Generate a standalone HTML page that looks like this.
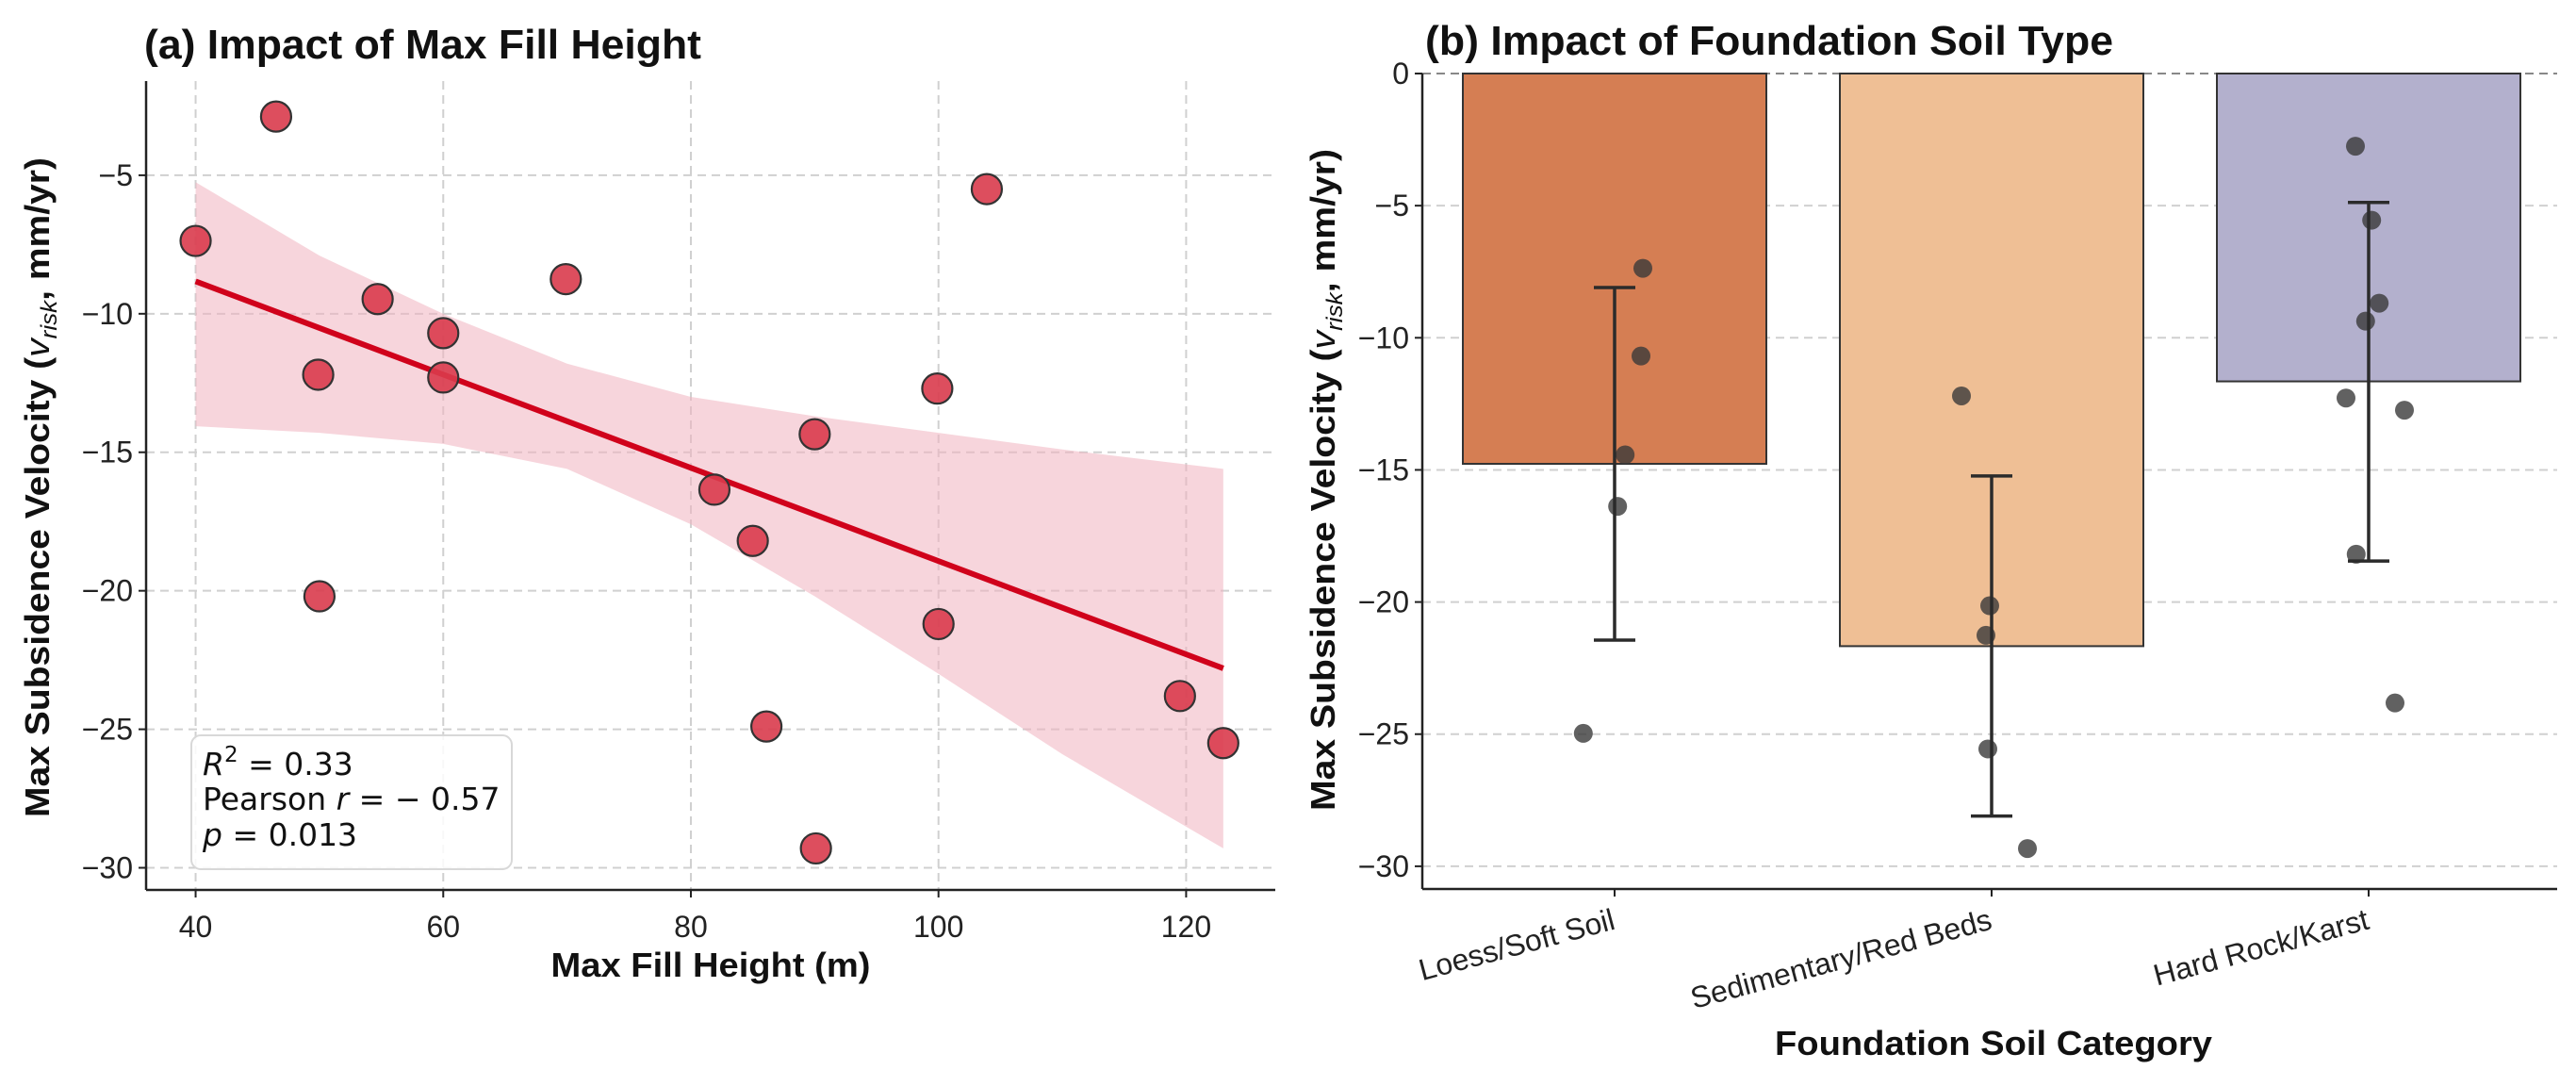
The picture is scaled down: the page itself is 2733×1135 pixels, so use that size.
<!DOCTYPE html>
<html><head><meta charset="utf-8">
<style>
html,body{margin:0;padding:0;background:#fff;}
svg{display:block;}
text{font-family:"Liberation Sans",Arial,sans-serif;}
.tick{font-size:32px;fill:#222;}
.title{font-size:44px;font-weight:bold;fill:#111;}
.alabel{font-size:36px;font-weight:bold;fill:#111;}
.leg{font-family:"DejaVu Sans","Liberation Sans",sans-serif;font-size:33px;fill:#111;}
</style></head>
<body>
<svg id="chart" width="2733" height="1135" viewBox="0 0 2733 1135" xmlns="http://www.w3.org/2000/svg">
<g id="pa"></g>
<g id="pb"></g>
</svg>
<script>
// ---------- Panel A data ----------
const fillHeights = [40, 46.5, 49.9, 50, 54.7, 60, 60, 69.9, 81.9, 85, 86.1, 90, 90.1, 99.9, 100, 103.9, 119.5, 123];
const velocitiesA = [-7.37, -2.88, -12.2, -20.2, -9.47, -10.7, -12.3, -8.75, -16.35, -18.2, -24.9, -14.35, -29.3, -12.7, -21.2, -5.5, -23.8, -25.5];
const fitX = [40, 123];
const fitY = [-8.83, -22.8];
const bandX = [40, 50, 60, 70, 80, 90, 100, 110, 123];
const bandUpper = [-5.25, -7.9, -10.0, -11.8, -13.0, -13.7, -14.3, -14.9, -15.6];
const bandLower = [-14.06, -14.3, -14.7, -15.6, -17.6, -20.2, -23.0, -25.9, -29.3];
const xTicksA = [40, 60, 80, 100, 120];
const yTicksA = [-5, -10, -15, -20, -25, -30];

// ---------- Panel B data ----------
const categories = ["Loess/Soft Soil", "Sedimentary/Red Beds", "Hard Rock/Karst"];
const barMeans = [-14.77, -21.67, -11.65];
const errTop = [-8.1, -15.23, -4.88];
const errBottom = [-21.44, -28.1, -18.45];
const stripCat = [0,0,0,0,0, 1,1,1,1,1, 2,2,2,2,2,2,2,2];
const stripVal = [-7.37,-10.69,-14.43,-16.38,-24.97, -12.2,-20.14,-21.26,-25.56,-29.33, -2.75,-5.55,-8.69,-9.37,-12.28,-12.74,-18.19,-23.82];
const stripJitter = [0.075,0.07,0.028,0.008,-0.083, -0.08,-0.005,-0.015,-0.01,0.095, -0.035,0.008,0.028,-0.008,-0.06,0.095,-0.033,0.07];
const yTicksB = [0, -5, -10, -15, -20, -25, -30];
const barColors = ["#d57e53", "#efbf95", "#b3b0cd"];

const NS = "http://www.w3.org/2000/svg";
function mk(parent, tag, attrs, txt){
  const e = document.createElementNS(NS, tag);
  for (const k in attrs) e.setAttribute(k, attrs[k]);
  if (txt !== undefined) e.textContent = txt;
  parent.appendChild(e);
  return e;
}

// ===== Panel A =====
const pa = document.getElementById('pa');
const A = {l:155, r:1353, t:86, b:944, x0:36.0, x1:127.2, y0:-30.8, y1:-1.6};
const xA = v => A.l + (v - A.x0) / (A.x1 - A.x0) * (A.r - A.l);
const yA = v => A.b - (v - A.y0) / (A.y1 - A.y0) * (A.b - A.t);

xTicksA.forEach(t => {
  let g = mk(pa, 'line', {x1:xA(t), x2:xA(t), y1:A.t, y2:A.b, stroke:'#d0d0d0', 'stroke-width':2, 'stroke-dasharray':'9 6'});
  
  
  let tk = mk(pa, 'line', {x1:xA(t), x2:xA(t), y1:A.b, y2:A.b+8, stroke:'#222', 'stroke-width':2});
  
  
  let lb = mk(pa, 'text', {x:xA(t), y:A.b+50, 'text-anchor':'middle', class:'tick'}, String(t));
  
  
});
yTicksA.forEach(t => {
  let g = mk(pa, 'line', {x1:A.l, x2:A.r, y1:yA(t), y2:yA(t), stroke:'#d0d0d0', 'stroke-width':2, 'stroke-dasharray':'9 6'});
  
  
  let tk = mk(pa, 'line', {x1:A.l-8, x2:A.l, y1:yA(t), y2:yA(t), stroke:'#222', 'stroke-width':2});
  
  
  let lb = mk(pa, 'text', {x:A.l-14, y:yA(t)+11, 'text-anchor':'end', class:'tick'}, String(t).replace('-', '\u2212'));
  
  
});

// confidence band
let bandPts = bandX.map((x,i) => xA(x)+','+yA(bandUpper[i]));
for (let i = bandX.length-1; i >= 0; i--) bandPts.push(xA(bandX[i])+','+yA(bandLower[i]));
let band = mk(pa, 'polygon', {points:bandPts.join(' '), fill:'#f0b3bf', 'fill-opacity':0.55});



// regression line
let fl = mk(pa, 'line', {x1:xA(fitX[0]), y1:yA(fitY[0]), x2:xA(fitX[1]), y2:yA(fitY[1]), stroke:'#d0021b', 'stroke-width':6});



// points
fillHeights.forEach((x,i) => {
  let c = mk(pa, 'circle', {cx:xA(x), cy:yA(velocitiesA[i]), r:16, fill:'#d93b4c', 'fill-opacity':0.9, stroke:'#333', 'stroke-width':2.2});
  
  
});

// spines
mk(pa, 'line', {x1:A.l, x2:A.l, y1:A.t, y2:A.b, stroke:'#222', 'stroke-width':2.5,  });
mk(pa, 'line', {x1:A.l, x2:A.r, y1:A.b, y2:A.b, stroke:'#222', 'stroke-width':2.5,  });

// legend box
const lg = mk(pa, 'g', { });
mk(lg, 'rect', {x:203, y:780, width:340, height:142, rx:10, fill:'#fff', 'fill-opacity':0.85, stroke:'#d8d8d8', 'stroke-width':2});
let t1 = mk(lg, 'text', {x:215, y:822, class:'leg'});
t1.innerHTML = '<tspan font-style="italic">R</tspan><tspan dy="-14" font-size="23">2</tspan><tspan dy="14"> = 0.33</tspan>';
let t2 = mk(lg, 'text', {x:215, y:859, class:'leg'});
t2.innerHTML = 'Pearson <tspan font-style="italic">r</tspan> = \u2212 0.57';
let t3 = mk(lg, 'text', {x:215, y:897, class:'leg'});
t3.innerHTML = '<tspan font-style="italic">p</tspan> = 0.013';

mk(pa, 'text', {x:153, y:62, class:'title', textLength:591, lengthAdjust:'spacingAndGlyphs',  }, '(a) Impact of Max Fill Height');
mk(pa, 'text', {x:754, y:1036, class:'alabel', 'text-anchor':'middle', textLength:339, lengthAdjust:'spacingAndGlyphs',  }, 'Max Fill Height (m)');
let yl = mk(pa, 'text', {x:0, y:0, class:'alabel', 'text-anchor':'middle', transform:'translate(52,517) rotate(-90)', textLength:700, lengthAdjust:'spacingAndGlyphs',  });
yl.innerHTML = 'Max Subsidence Velocity (<tspan font-style="italic" font-weight="normal">v</tspan><tspan font-style="italic" font-weight="normal" font-size="24" dy="8">risk</tspan><tspan dy="-8">, mm/yr)</tspan>';

// ===== Panel B =====
const pb = document.getElementById('pb');
const B = {l:1509, r:2713, t:78, b:943, y0:-30.86, y1:0, c0:1713, step:400, bw:322};
const yB = v => B.b - (v - B.y0) / (B.y1 - B.y0) * (B.b - B.t);
const xB = i => B.c0 + i * B.step;

yTicksB.forEach(t => {
  let g = mk(pb, 'line', {x1:B.l, x2:B.r, y1:yB(t), y2:yB(t), stroke: t===0 ? '#888' : '#d0d0d0', 'stroke-width':2, 'stroke-dasharray':'9 6'});
  
  
  let tk = mk(pb, 'line', {x1:B.l-8, x2:B.l, y1:yB(t), y2:yB(t), stroke:'#222', 'stroke-width':2});
  
  
  let lb = mk(pb, 'text', {x:B.l-14, y:yB(t)+11, 'text-anchor':'end', class:'tick'}, String(t).replace('-', '\u2212'));
  
  
});

categories.forEach((c,i) => {
  let r = mk(pb, 'rect', {x:xB(i)-B.bw/2, y:yB(0), width:B.bw, height:yB(barMeans[i])-yB(0), fill:barColors[i], stroke:'#333', 'stroke-width':2});
  
  
});

stripVal.forEach((v,i) => {
  let c = mk(pb, 'circle', {cx:xB(stripCat[i]) + stripJitter[i]*B.step, cy:yB(v), r:10, fill:'#3a3a3a', 'fill-opacity':0.8});
  
  
});

categories.forEach((c,i) => {
  const g = mk(pb, 'g', {stroke:'#2b2b2b', 'stroke-width':3.5});
  
  
  mk(g, 'line', {x1:xB(i), x2:xB(i), y1:yB(errTop[i]), y2:yB(errBottom[i])});
  mk(g, 'line', {x1:xB(i)-22, x2:xB(i)+22, y1:yB(errTop[i]), y2:yB(errTop[i])});
  mk(g, 'line', {x1:xB(i)-22, x2:xB(i)+22, y1:yB(errBottom[i]), y2:yB(errBottom[i])});
  let tk = mk(pb, 'line', {x1:xB(i), x2:xB(i), y1:B.b, y2:B.b+8, stroke:'#222', 'stroke-width':2});
  
  
  let lb = mk(pb, 'text', {x:0, y:0, 'text-anchor':'end', class:'tick', transform:'translate(' + (xB(i)+2) + ',' + (B.b+42) + ') rotate(-15)'}, c);
  
  
});

mk(pb, 'line', {x1:B.l, x2:B.l, y1:B.t, y2:B.b, stroke:'#222', 'stroke-width':2.5,  });
mk(pb, 'line', {x1:B.l, x2:B.r, y1:B.b, y2:B.b, stroke:'#222', 'stroke-width':2.5,  });

mk(pb, 'text', {x:1512, y:58, class:'title', textLength:730, lengthAdjust:'spacingAndGlyphs',  }, '(b) Impact of Foundation Soil Type');
mk(pb, 'text', {x:2115, y:1119, class:'alabel', 'text-anchor':'middle', textLength:464, lengthAdjust:'spacingAndGlyphs',  }, 'Foundation Soil Category');
let yl2 = mk(pb, 'text', {x:0, y:0, class:'alabel', 'text-anchor':'middle', transform:'translate(1416,509) rotate(-90)', textLength:702, lengthAdjust:'spacingAndGlyphs',  });
yl2.innerHTML = 'Max Subsidence Velocity (<tspan font-style="italic" font-weight="normal">v</tspan><tspan font-style="italic" font-weight="normal" font-size="24" dy="8">risk</tspan><tspan dy="-8">, mm/yr)</tspan>';
</script>
</body></html>
